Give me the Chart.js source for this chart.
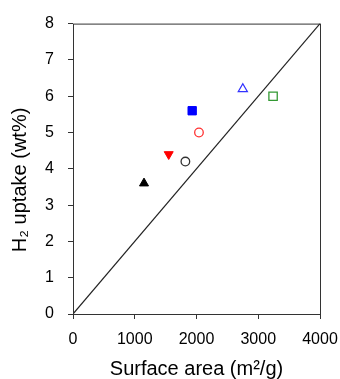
<!DOCTYPE html>
<html>
<head>
<meta charset="utf-8">
<script src="https://cdn.jsdelivr.net/npm/chart.js@4"></script>
<style>
  html, body { margin: 0; padding: 0; background: #fff; }
  #wrap { width: 340px; height: 379px; }
</style>
</head>
<body>
<div id="wrap"><canvas id="chart"></canvas></div>
<script>
// data
const labels = ["A", "B", "C", "D", "E", "F", "G"];
const surfaceArea = [1150, 1550, 1820, 1930, 2040, 2750, 3240];
const uptake = [3.6, 4.4, 4.2, 5.6, 5.0, 6.2, 6.0];
const markerStyles = ["triangle", "triangle", "circle", "rect", "circle", "triangle", "rect"];
const markerRotation = [0, 180, 0, 0, 0, 0, 0];
const markerColors = ["#000000", "#ff0000", "#333333", "#0000ff", "#ff3333", "#3333ff", "#339933"];
const markerFilled = [true, true, false, true, false, false, false];
const markerRadius = [5.2, 5.2, 4.3, 5.9, 4.3, 5.2, 5.9];
const refLine = [{ x: 0, y: 0 }, { x: 4000, y: 8 }];
const xTicks = [0, 1000, 2000, 3000, 4000];
const yTicks = [0, 1, 2, 3, 4, 5, 6, 7, 8];

const FONT = "'Liberation Sans', Arial, sans-serif";

// one dataset per marker, plus the y = x/500 line
const datasets = labels.map((name, i) => ({
  label: name,
  data: [{ x: surfaceArea[i], y: uptake[i] }],
  pointStyle: markerStyles[i],
  rotation: markerRotation[i],
  radius: markerRadius[i],
  borderColor: markerColors[i],
  backgroundColor: markerFilled[i] ? markerColors[i] : "rgba(255,255,255,0)",
  borderWidth: markerFilled[i] ? 1 : 1.3,
  showLine: false
}));
datasets.unshift({
  label: "ref",
  data: refLine,
  showLine: true,
  borderColor: "#222",
  borderWidth: 1.2,
  pointRadius: 0,
  fill: false
});

// box around the plot area
const boxPlugin = {
  id: "box",
  afterDraw(chart) {
    const { ctx, chartArea: a } = chart;
    ctx.save();
    ctx.strokeStyle = "#333";
    ctx.lineWidth = 1;
    ctx.strokeRect(a.left + 0.5, a.top + 0.5, a.right - a.left, a.bottom - a.top);
    ctx.restore();
  }
};

new Chart(document.getElementById("chart"), {
  type: "scatter",
  data: { datasets },
  options: {
    responsive: true,
    maintainAspectRatio: false,
    animation: false,
    layout: { padding: { left: 0, top: 19, right: 20, bottom: 0 } },
    plugins: { legend: { display: false }, tooltip: { enabled: false } },
    scales: {
      x: {
        type: "linear", min: 0, max: 4000,
        afterBuildTicks: s => { s.ticks = xTicks.map(v => ({ value: v })); },
        afterFit: s => { s.height = 65; s.paddingRight = 0; s.paddingLeft = 0; },
        grid: { drawOnChartArea: false, drawTicks: true, tickLength: 5, color: "#333" },
        border: { display: false },
        ticks: { color: "#000", font: { family: FONT, size: 16 }, padding: 11, maxRotation: 0,
                 callback: v => String(v) },
        title: { display: true, text: "Surface area (m²/g)", color: "#000",
                 font: { family: FONT, size: 20, lineHeight: 1 }, padding: { top: 0, bottom: 0 } }
      },
      y: {
        type: "linear", min: 0, max: 8,
        afterBuildTicks: s => { s.ticks = yTicks.map(v => ({ value: v })); },
        afterFit: s => { s.width = 73; },
        grid: { drawOnChartArea: false, drawTicks: true, tickLength: 5, color: "#333" },
        border: { display: false },
        ticks: { color: "#000", font: { family: FONT, size: 16 }, padding: 14 },
        // trailing no-break spaces nudge the centred title upward like the original
        title: { display: true, text: "H₂ uptake (wt%)\u00a0\u00a0\u00a0\u00a0", color: "#000",
                 font: { family: FONT, size: 20, lineHeight: 1.2 }, padding: { top: 8, bottom: 0 } }
      }
    }
  },
  plugins: [boxPlugin]
});
</script>
</body>
</html>
